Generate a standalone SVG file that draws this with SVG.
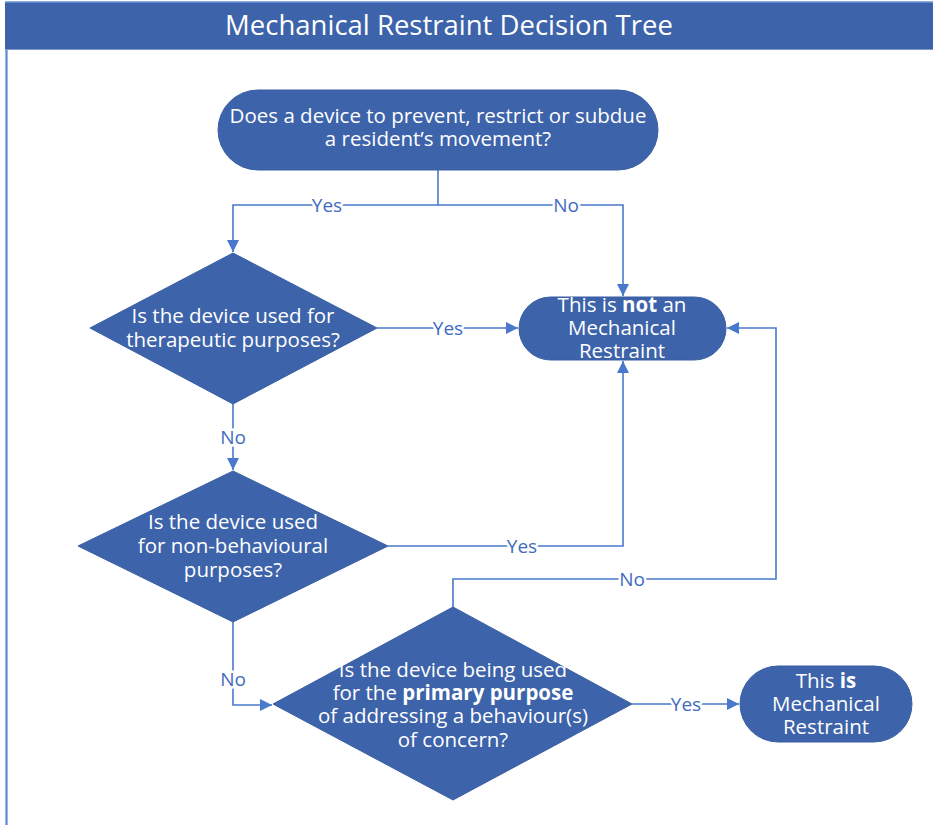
<svg xmlns="http://www.w3.org/2000/svg" width="933" height="825" viewBox="0 0 933 825">
<style>
.node{fill:#3D63AA;stroke:#3A5FA3;stroke-width:1}
.nt{font-family:"Open Sans","Liberation Sans",sans-serif;font-size:20.5px;fill:#ffffff;text-anchor:middle}
.c{fill:none;stroke:#4A78CC;stroke-width:1.6}
.lbl{font-family:"Open Sans","Liberation Sans",sans-serif;font-size:19px;fill:#3F6CC0;text-anchor:middle;dominant-baseline:central;stroke:#ffffff;stroke-width:5px;paint-order:stroke}
</style>
<defs>
<marker id="arr" markerUnits="userSpaceOnUse" markerWidth="14" markerHeight="14" refX="12" refY="6" orient="auto">
<path d="M0,0 L12,6 L0,12 Z" fill="#4A78CC"/>
</marker>
</defs>
<rect width="933" height="825" fill="#ffffff"/>
<g id="frame">
<line x1="6.5" y1="48" x2="6.5" y2="825" stroke="#5B87D6" stroke-width="2.2"/>
<rect x="5" y="2" width="928" height="47" fill="#3D63AA"/>
<line x1="5" y1="2" x2="933" y2="2" stroke="#6A92D8" stroke-width="1.5"/>
<line x1="5" y1="49.5" x2="933" y2="49.5" stroke="#7D9BD0" stroke-width="1.2"/>
<text x="449" y="35" font-family="Open Sans,Liberation Sans,sans-serif" font-size="27.5" fill="#ffffff" text-anchor="middle">Mechanical Restraint Decision Tree</text>
</g>
<g id="connectors">
<polyline class="c" points="438,170 438,205 233,205 233,252" marker-end="url(#arr)"/>
<polyline class="c" points="438,205 623,205 623,296" marker-end="url(#arr)"/>
<polyline class="c" points="377,328 518,328" marker-end="url(#arr)"/>
<polyline class="c" points="233,404 233,470" marker-end="url(#arr)"/>
<polyline class="c" points="388,546 623,546 623,361" marker-end="url(#arr)"/>
<polyline class="c" points="233,622 233,705 272,705" marker-end="url(#arr)"/>
<polyline class="c" points="453,607 453,579 776,579 776,328 727,328" marker-end="url(#arr)"/>
<polyline class="c" points="632,704 739,704" marker-end="url(#arr)"/>
<text class="lbl" x="327" y="205">Yes</text>
<text class="lbl" x="566" y="205">No</text>
<text class="lbl" x="448" y="328">Yes</text>
<text class="lbl" x="233" y="437">No</text>
<text class="lbl" x="522" y="546">Yes</text>
<text class="lbl" x="233" y="679">No</text>
<text class="lbl" x="632" y="579">No</text>
<text class="lbl" x="686" y="704">Yes</text>
</g>
<g id="start">
<rect class="node" x="218" y="90" width="440" height="80" rx="40" ry="40"/>
<text class="nt" x="438" y="123">Does a device to prevent, restrict or subdue</text>
<text class="nt" x="438" y="146">a resident’s movement?</text>
</g>
<g id="q1">
<polygon class="node" points="233,253 377,328 233,404 90,328"/>
<text class="nt" x="233" y="323">Is the device used for</text>
<text class="nt" x="233" y="347">therapeutic purposes?</text>
</g>
<g id="not-restraint">
<rect class="node" x="519" y="297" width="207" height="63" rx="31.5" ry="31.5"/>
<text class="nt" x="622" y="312">This is <tspan font-weight="bold">not</tspan> an</text>
<text class="nt" x="622" y="335">Mechanical</text>
<text class="nt" x="622" y="358">Restraint</text>
</g>
<g id="q2">
<polygon class="node" points="233,471 388,546 233,622 78,546"/>
<text class="nt" x="233" y="529">Is the device used</text>
<text class="nt" x="233" y="553">for non-behavioural</text>
<text class="nt" x="233" y="577">purposes?</text>
</g>
<g id="q3">
<polygon class="node" points="453,607 632,704 453,800 273,704"/>
<text class="nt" x="453" y="677">Is the device being used</text>
<text class="nt" x="453" y="700">for the <tspan font-weight="bold">primary purpose</tspan></text>
<text class="nt" x="453" y="723">of addressing a behaviour(s)</text>
<text class="nt" x="453" y="747">of concern?</text>
</g>
<g id="is-restraint">
<rect class="node" x="740" y="666" width="172" height="76" rx="38" ry="38"/>
<text class="nt" x="826" y="688">This <tspan font-weight="bold">is</tspan></text>
<text class="nt" x="826" y="711">Mechanical</text>
<text class="nt" x="826" y="734">Restraint</text>
</g>
</svg>
